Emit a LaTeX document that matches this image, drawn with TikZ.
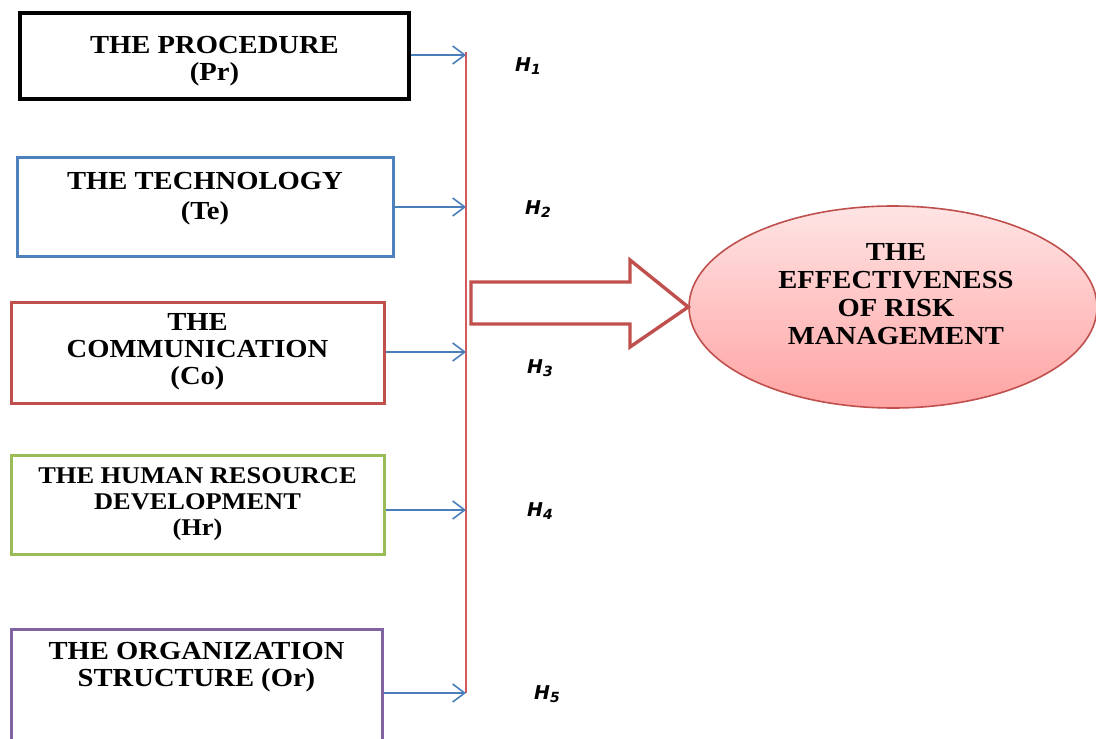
\documentclass[tikz,border=0pt]{standalone}
\usepackage{fontspec}
\setmainfont{Liberation Serif}[FakeStretch=1.1]
\newfontfamily\hfont{DejaVu Sans}
\usepackage{tikz}
\usetikzlibrary{arrows.meta}
\usetikzlibrary{shapes.geometric}
\usetikzlibrary{calc}

\definecolor{linkblue}{RGB}{74,126,187}
\definecolor{tecblue}{RGB}{79,129,189}
\definecolor{cored}{RGB}{192,80,77}
\definecolor{busred}{RGB}{210,90,90}
\definecolor{hrgreen}{RGB}{155,187,89}
\definecolor{orpurple}{RGB}{128,100,162}
\definecolor{effpinktop}{RGB}{255,228,228}
\definecolor{effpinkbot}{RGB}{255,163,163}

\newcommand{\hyp}[1]{{\hfont\bfseries\itshape H\raisebox{-0.35ex}{\scriptsize #1}}}

\begin{document}
\begin{tikzpicture}[x=0.5pt,y=-0.5pt,line join=miter,
    >={Straight Barb[length=6pt,width=9pt]},
    box/.style={draw,rectangle,inner sep=0pt,line width=1.5pt},
    boxtext/.style={align=center,inner sep=0pt,font=\bfseries\fontsize{13}{13.5}\selectfont},
    link/.style={->,color=linkblue,line width=0.8pt},
    hlabel/.style={inner sep=0pt,font=\fontsize{9.5}{10}\selectfont}]
      \useasboundingbox (0,0) rectangle (1096,738);
      \clip (0,0) rectangle (1096,738);
      % the five factors
      \node[box,line width=1.8pt,minimum width=194.5pt,minimum height=43pt] (pr) at (214.5,56) {};
      \node[boxtext] (prl) at (214.5,61) {THE PROCEDURE\\(Pr)};
      \node[box,draw=tecblue,minimum width=188pt,minimum height=49.5pt] (te) at (205,206.5) {};
      \node[boxtext] (tel) at (205,199) {THE TECHNOLOGY\\[1.5pt](Te)};
      \node[box,draw=cored,minimum width=186.5pt,minimum height=50.5pt] (co) at (197.5,352.5) {};
      \node[boxtext] (col) at (197.5,352) {THE\\COMMUNICATION\\(Co)};
      \node[box,draw=hrgreen,minimum width=186.5pt,minimum height=49.5pt] (hr) at (197.5,504.5) {};
      \node[boxtext,font=\bfseries\fontsize{12}{13}\selectfont] (hrl) at (197.5,504) {THE HUMAN RESOURCE\\DEVELOPMENT\\(Hr)};
      \node[box,draw=orpurple,minimum width=185.5pt,minimum height=70pt,anchor=north] (or) at (196.5,628) {};
      \node[boxtext] (orl) at (196.5,667) {THE ORGANIZATION\\STRUCTURE (Or)};
      % bus line and hypotheses
      \coordinate (top) at (466,52);
      \coordinate (b1) at (466,55);
      \coordinate (b2) at (466,207);
      \coordinate (b3) at (466,352);
      \coordinate (b4) at (466,510);
      \coordinate (b5) at (466,693);
      \draw[color=busred,line width=0.8pt] (top) -- (b5);
      \draw[link] (pr.east |- b1) -- (b1);
      \draw[link] (te.east |- b2) -- (b2);
      \draw[link] (co.east |- b3) -- (b3);
      \draw[link] (hr.east |- b4) -- (b4);
      \draw[link] (or.east |- b5) -- (b5);
      \node[hlabel] (h1) at (528,66) {\hyp{1}};
      \node[hlabel] (h2) at (538,209) {\hyp{2}};
      \node[hlabel] (h3) at (540,368) {\hyp{3}};
      \node[hlabel] (h4) at (540,511) {\hyp{4}};
      \node[hlabel] (h5) at (547,694) {\hyp{5}};
      % outcome
      \node[ellipse,draw=cored,line width=0.8pt,top color=effpinktop,bottom color=effpinkbot,
        minimum width=204pt,minimum height=101pt,inner sep=0pt] (eff) at (893,307) {};
      \node[boxtext,font=\bfseries\fontsize{13}{14}\selectfont] (effl) at (896,294) {THE\\EFFECTIVENESS\\OF RISK\\MANAGEMENT};
      \draw[color=cored,line width=1.7pt,fill=white] (471,282) -- (630,282) -- (630,260) -- (eff.west) -- (630,347) -- (630,324) -- (471,324) -- cycle;
    \end{tikzpicture}
\end{document}
